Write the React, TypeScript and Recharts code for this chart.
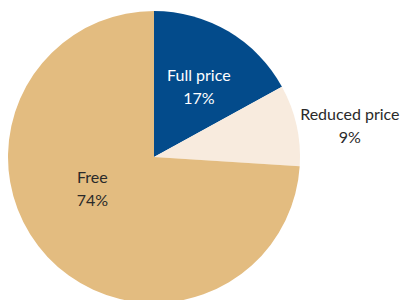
import React from "react";
import { PieChart, Pie, Cell } from "recharts";

const categories = ["Full price", "Reduced price", "Free"];
const shares = [17, 9, 74];
const colors = ["#034B8B", "#F8EBDE", "#E3BC80"];
const labelColors = ["#FFFFFF", "#2A2A2A", "#2A2A2A"];
// label placement: polar angle (deg) and distance as fraction of outer radius
const labelPlacement = [
  { angle: 58, r: 0.58 },
  { angle: 9.5, r: 1.36 },
  { angle: 206, r: 0.47 },
];

const data = categories.map((name, i) => ({ name, value: shares[i] }));

const RADIAN = Math.PI / 180;

const renderLabel = (props: any) => {
  const { cx, cy, outerRadius, index } = props;
  const p = labelPlacement[index];
  const x = cx + outerRadius * p.r * Math.cos(p.angle * RADIAN);
  const y = cy - outerRadius * p.r * Math.sin(p.angle * RADIAN);
  return (
    <text
      x={x}
      y={y}
      textAnchor="middle"
      fill={labelColors[index]}
      fontFamily="Lato, 'Open Sans', sans-serif"
      fontSize={16}
    >
      <tspan x={x} dy={-4}>{categories[index]}</tspan>
      <tspan x={x} dy={23}>{shares[index]}%</tspan>
    </text>
  );
};

export default function App() {
  return (
    <div style={{ position: "fixed", left: 0, top: 0, width: 404, height: 300, background: "#fff" }}>
      <PieChart width={404} height={300} margin={{ top: 0, right: 0, bottom: 0, left: 0 }}>
        <Pie
          data={data}
          dataKey="value"
          nameKey="name"
          cx={154}
          cy={157}
          outerRadius={146}
          startAngle={90}
          endAngle={-270}
          stroke="none"
          label={renderLabel}
          labelLine={false}
          isAnimationActive={false}
        >
          {data.map((d, i) => (
            <Cell key={d.name} fill={colors[i]} />
          ))}
        </Pie>
      </PieChart>
    </div>
  );
}
